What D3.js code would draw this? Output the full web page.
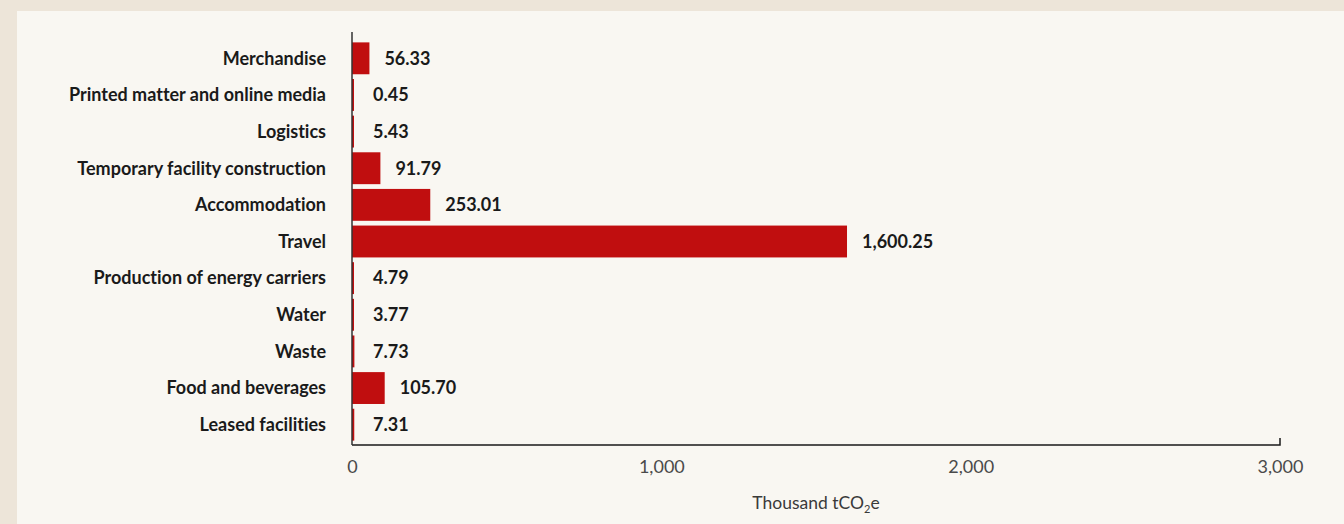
<!DOCTYPE html>
<html>
<head>
<meta charset="utf-8">
<script src="https://cdn.jsdelivr.net/npm/d3@7"></script>
<style>
  html, body { margin: 0; padding: 0; background: #ede5d9; }
  #chart { width: 1344px; height: 524px; }
  svg text { font-variant-ligatures: none; }
  .cat-label { font-family: Lato, "Open Sans", sans-serif; font-weight: 700; font-size: 18px; fill: #1a1a1a; }
  .val-label { font-family: Lato, "Open Sans", sans-serif; font-weight: 700; font-size: 18px; fill: #1a1a1a; }
  .axis text { font-family: Lato, "Open Sans", sans-serif; font-size: 18px; fill: #4a4a4a; }
  .axis-title { font-family: Lato, "Open Sans", sans-serif; font-size: 17.5px; fill: #3a3a3a; }
</style>
</head>
<body>
<div id="chart"></div>
<script>
var categories = [
  "Merchandise",
  "Printed matter and online media",
  "Logistics",
  "Temporary facility construction",
  "Accommodation",
  "Travel",
  "Production of energy carriers",
  "Water",
  "Waste",
  "Food and beverages",
  "Leased facilities"
];
var values = [56.33, 0.45, 5.43, 91.79, 253.01, 1600.25, 4.79, 3.77, 7.73, 105.70, 7.31];
var xTicks = [0, 1000, 2000, 3000];
var axisTitle = "Thousand tCO";

var data = categories.map(function(c, i){ return { name: c, value: values[i] }; });

var svg = d3.select("#chart").append("svg")
  .attr("width", 1344)
  .attr("height", 524);

// panel
svg.append("rect")
  .attr("x", 17).attr("y", 11)
  .attr("width", 1344 - 17).attr("height", 524 - 11)
  .attr("fill", "#f9f7f2");

var x = d3.scaleLinear()
  .domain([0, 3000])
  .range([352, 1280]);

var y = d3.scaleBand()
  .domain(categories)
  .range([40, 443])
  .paddingInner(0.13)
  .paddingOuter(0.065);

// bars
svg.selectAll(".bar")
  .data(data)
  .enter().append("rect")
  .attr("class", "bar")
  .attr("x", x(0))
  .attr("y", function(d){ return y(d.name); })
  .attr("width", function(d){ return Math.max(2, x(d.value) - x(0)); })
  .attr("height", y.bandwidth())
  .attr("fill", "#c00e0f");

// value labels
var fmt = d3.format(",.2f");
svg.selectAll(".val-label")
  .data(data)
  .enter().append("text")
  .attr("class", "val-label")
  .attr("x", function(d){ return Math.max(x(d.value) + 15, 373); })
  .attr("y", function(d){ return y(d.name) + y.bandwidth() / 2; })
  .attr("dy", "0.35em")
  .text(function(d){ return fmt(d.value); });

// category labels
svg.selectAll(".cat-label")
  .data(data)
  .enter().append("text")
  .attr("class", "cat-label")
  .attr("x", 326)
  .attr("y", function(d){ return y(d.name) + y.bandwidth() / 2; })
  .attr("dy", "0.35em")
  .attr("text-anchor", "end")
  .text(function(d){ return d.name; });

// x axis
var xAxis = svg.append("g")
  .attr("class", "axis axis--x")
  .attr("transform", "translate(0,445)")
  .call(d3.axisBottom(x).tickValues(xTicks).tickFormat(d3.format(",")).tickSize(0).tickPadding(15));

xAxis.select(".domain").remove();
xAxis.append("path")
  .attr("d", "M" + x(0) + ",0H" + x(3000) + "V-7")
  .attr("fill", "none")
  .attr("stroke", "#1a1a1a")
  .attr("stroke-width", 1.5);

// y axis line
svg.append("line")
  .attr("x1", x(0)).attr("x2", x(0))
  .attr("y1", 32).attr("y2", 445)
  .attr("stroke", "#333")
  .attr("stroke-width", 1.5);

// axis title
var title = svg.append("text")
  .attr("class", "axis-title")
  .attr("x", (x(0) + x(3000)) / 2)
  .attr("y", 509)
  .attr("text-anchor", "middle");
title.append("tspan").text(axisTitle);
title.append("tspan").attr("font-size", "11px").attr("dy", "4").text("2");
title.append("tspan").attr("dy", "-4").text("e");
</script>
</body>
</html>
